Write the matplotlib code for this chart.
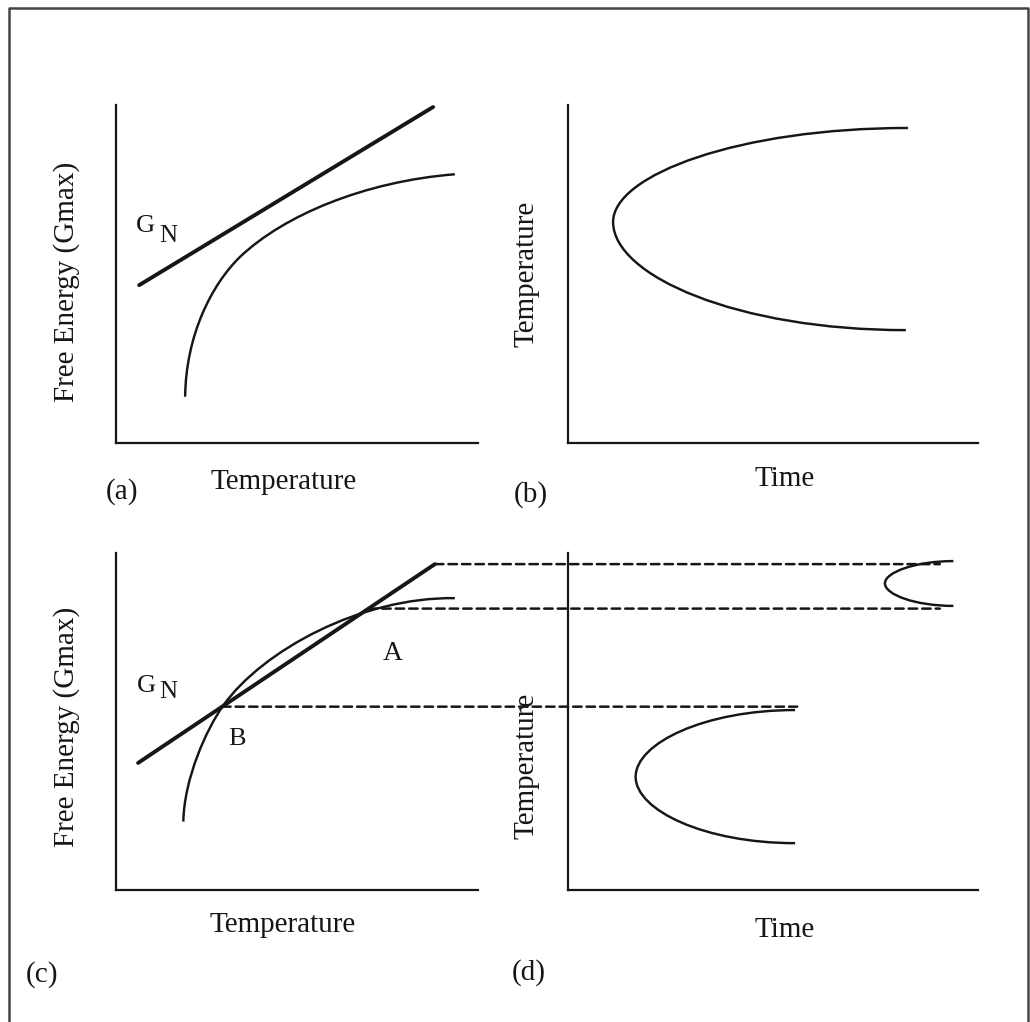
import matplotlib
matplotlib.use("Agg")
import matplotlib.pyplot as plt
from matplotlib.path import Path
from matplotlib.patches import PathPatch, ConnectionPatch
from matplotlib.lines import Line2D

plt.rcParams["font.family"] = "Liberation Serif"

W, H = 1030, 1022
INK = "#161616"

# schematic values, every panel runs 0-100 on both axes
gn_line_a_x = [6.4, 87.6]
gn_line_a_y = [46.7, 99.4]
gn_line_c_x = [6.1, 88.1]
gn_line_c_y = [37.7, 96.7]

# free energy curves as bezier control points (start, c1, c2, end, c1, c2, end)
fe_curve_a = [(19.1, 13.7), (19.3, 32.0), (26.5, 47.0), (34.3, 55.1),
              (46.3, 67.3), (68.6, 77.4), (93.6, 79.5)]
fe_curve_c = [(18.6, 20.3), (18.8, 33.0), (25.0, 47.8), (29.6, 54.7),
              (40.6, 71.3), (68.0, 87.0), (93.6, 86.6)]

# C-curves (TTT): top end, c2, c1, nose, c1, c2, bottom end
ttt_b = [(82.9, 93.2), (41.9, 93.2), (11.0, 79.4), (11.0, 65.4),
         (11.0, 49.4), (41.4, 33.4), (82.4, 33.4)]
ttt_d_low = [(55.4, 53.4), (33.4, 53.4), (16.5, 43.6), (16.5, 33.6),
             (16.5, 23.6), (33.4, 13.9), (55.4, 13.9)]
ttt_d_high = [(94.0, 97.6), (84.8, 97.6), (77.3, 94.3), (77.3, 91.0),
              (77.3, 87.6), (84.8, 84.3), (94.0, 84.3)]

# projection lines from panel (c) to (d)
dash_y = [96.7, 83.5, 54.4]
dash_start_x = [88.1, 69.8, 29.3]
dash_end_x = [90.7, 90.7, 55.9]

fig = plt.figure(figsize=(W / 100, H / 100), dpi=100, facecolor="white")


def px_axes(left, top, right, bottom):
    ax = fig.add_axes([left / W, 1 - bottom / H, (right - left) / W, (bottom - top) / H])
    ax.set_xlim(0, 100)
    ax.set_ylim(0, 100)
    ax.set_xticks([])
    ax.set_yticks([])
    ax.set_facecolor("none")
    for side in ["top", "right"]:
        ax.spines[side].set_visible(False)
    for side in ["left", "bottom"]:
        ax.spines[side].set_linewidth(1.6)
        ax.spines[side].set_color(INK)
    return ax


def bezier(ax, pts, lw=1.75):
    codes = [Path.MOVETO] + [Path.CURVE4] * (len(pts) - 1)
    ax.add_patch(PathPatch(Path(pts, codes), facecolor="none", edgecolor=INK,
                           lw=lw, clip_on=False, capstyle="butt"))


def fig_text(x, y, s, size=21, rot=0):
    fig.text(x / W, 1 - y / H, s, ha="center", va="center", rotation=rot,
             fontsize=size, color=INK)


ax_a = px_axes(116, 105, 478, 443)
ax_b = px_axes(568, 105, 978, 443)
ax_c = px_axes(116, 553, 478, 890)
ax_d = px_axes(568, 553, 978, 890)

# (a)
ax_a.plot(gn_line_a_x, gn_line_a_y, color=INK, lw=2.8, solid_capstyle="round", clip_on=False)
bezier(ax_a, fe_curve_a)
ax_a.text(5.5, 62.3, "G", fontsize=19, color=INK, va="baseline")
ax_a.text(11.9, 59.6, "N", fontsize=18, color=INK, va="baseline")

# (b)
bezier(ax_b, ttt_b)

# (c)
ax_c.plot(gn_line_c_x, gn_line_c_y, color=INK, lw=2.8, solid_capstyle="round", clip_on=False)
bezier(ax_c, fe_curve_c)
ax_c.text(5.7, 58.8, "G", fontsize=19, color=INK, va="baseline")
ax_c.text(11.9, 57.0, "N", fontsize=18, color=INK, va="baseline")
ax_c.text(73.8, 68.2, "A", fontsize=20, color=INK, va="baseline")
ax_c.text(30.9, 43.0, "B", fontsize=19, color=INK, va="baseline")

# (d)
bezier(ax_d, ttt_d_low)
bezier(ax_d, ttt_d_high)

for y, x0, x1 in zip(dash_y, dash_start_x, dash_end_x):
    con = ConnectionPatch(xyA=(x0, y), coordsA=ax_c.transData,
                          xyB=(x1, y), coordsB=ax_d.transData,
                          color=INK, lw=1.8, linestyle=(0, (3.4, 2.0)))
    fig.add_artist(con)

# labels
fig_text(67, 282, "Free Energy (Gmax)", rot=90)
fig_text(527, 274, "Temperature", rot=90)
fig_text(67, 727, "Free Energy (Gmax)", rot=90)
fig_text(527, 766, "Temperature", rot=90)
fig_text(284, 482, "Temperature")
fig_text(785, 479, "Time")
fig_text(283, 925, "Temperature")
fig_text(785, 930, "Time")
fig_text(122, 492, "(a)")
fig_text(531, 495, "(b)")
fig_text(42, 975, "(c)")
fig_text(529, 973, "(d)")

# frame round the figure, open at the bottom
fig.add_artist(Line2D([9 / W, 9 / W, 1027.5 / W, 1027.5 / W],
                      [0, 1 - 8 / H, 1 - 8 / H, 0],
                      transform=fig.transFigure, color="#444444", lw=1.8))

fig.savefig("out.png", dpi=100, facecolor="white")
